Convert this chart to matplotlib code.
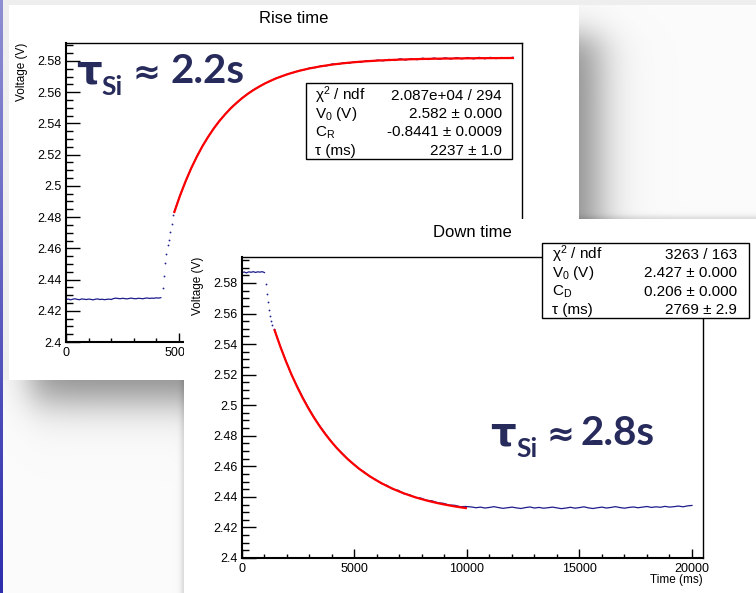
import numpy as np
import matplotlib.pyplot as plt
from matplotlib.ticker import MultipleLocator, FuncFormatter
from matplotlib.patches import Rectangle

plt.rcParams['font.family'] = ['Liberation Sans', 'DejaVu Sans']
plt.rcParams['mathtext.fontset'] = 'custom'
plt.rcParams['mathtext.rm'] = 'Liberation Sans'
plt.rcParams['mathtext.it'] = 'Liberation Sans:italic'

W, H = 756, 593

# ---------------- Rise time data ----------------
rise_base_t0, rise_base_dt = 0, 100
rise_base_v = [2.4272, 2.4275, 2.4270, 2.4274, 2.4277, 2.4273, 2.4271, 2.4276, 2.4274, 2.4272,
               2.4275, 2.4273, 2.4270, 2.4274, 2.4276, 2.4272, 2.4274, 2.4271, 2.4273, 2.4275,
               2.4272, 2.4278, 2.4281, 2.4279, 2.4277, 2.4280, 2.4278, 2.4276, 2.4279, 2.4281,
               2.4278, 2.4277, 2.4280, 2.4279, 2.4277, 2.4280, 2.4282, 2.4279, 2.4281, 2.4280,
               2.4283, 2.4281, 2.4284]
rise_jump_t = [4300, 4345, 4390, 4445, 4520, 4580, 4625, 4680, 4740]
rise_jump_v = [2.4343, 2.4422, 2.4503, 2.4562, 2.4622, 2.4656, 2.4703, 2.4758, 2.4811]
rise_curve_t0, rise_curve_dt = 4800, 250
rise_data_v = [2.4836, 2.4940, 2.5028, 2.5116, 2.5187, 2.5258, 2.5313, 2.5370, 2.5418, 2.5457,
               2.5499, 2.5529, 2.5563, 2.5590, 2.5615, 2.5634, 2.5656, 2.5671, 2.5690, 2.5700,
               2.5716, 2.5724, 2.5738, 2.5743, 2.5756, 2.5757, 2.5769, 2.5769, 2.5781, 2.5778,
               2.5789, 2.5786, 2.5796, 2.5792, 2.5801, 2.5797, 2.5806, 2.5801, 2.5810, 2.5803,
               2.5814, 2.5806, 2.5815, 2.5808, 2.5818, 2.5809, 2.5819, 2.5811, 2.5820, 2.5812,
               2.5821, 2.5813, 2.5822, 2.5813, 2.5823, 2.5814, 2.5823, 2.5815, 2.5822, 2.5816, 2.5824]
rise_fit_v = [2.48326, 2.49370, 2.50304, 2.51139, 2.51885, 2.52553, 2.53150, 2.53684, 2.54161, 2.54588,
              2.54970, 2.55311, 2.55617, 2.55890, 2.56134, 2.56352, 2.56548, 2.56722, 2.56879, 2.57018,
              2.57143, 2.57255, 2.57355, 2.57444, 2.57524, 2.57595, 2.57659, 2.57716, 2.57768, 2.57813,
              2.57854, 2.57891, 2.57923, 2.57953, 2.57979, 2.58002, 2.58023, 2.58042, 2.58058, 2.58073,
              2.58087, 2.58099, 2.58109, 2.58119, 2.58128, 2.58135, 2.58142, 2.58148, 2.58154, 2.58159,
              2.58163, 2.58167, 2.58170, 2.58173, 2.58176, 2.58179, 2.58181, 2.58183, 2.58185, 2.58187, 2.58189]
rise_stat_labels = [r"χ$^\mathregular{2}$ / ndf", r"V$_\mathregular{0}$ (V)", r"C$_\mathregular{R}$", "τ (ms)"]
rise_stat_values = ["2.087e+04 / 294", "2.582 ± 0.000", "-0.8441 ± 0.0009", "2237 ± 1.0"]

# ---------------- Down time data ----------------
down_base_t0, down_base_dt = 0, 100
down_base_v = [2.5868, 2.5872, 2.5866, 2.5873, 2.5870, 2.5874, 2.5869, 2.5873, 2.5871, 2.5874, 2.5868]
down_jump_t = [1053, 1111, 1169, 1213, 1258, 1302, 1347, 1409]
down_jump_v = [2.5793, 2.5728, 2.5673, 2.5625, 2.5584, 2.5551, 2.5524, 2.5501]
down_curve_t0, down_curve_dt = 1450, 250
down_data_v = [2.5490, 2.5387, 2.5291, 2.5198, 2.5125, 2.5052, 2.4985, 2.4922, 2.4866, 2.4815,
               2.4767, 2.4720, 2.4686, 2.4646, 2.4618, 2.4583, 2.4562, 2.4531, 2.4513, 2.4487,
               2.4475, 2.4450, 2.4443, 2.4420, 2.4414, 2.4396, 2.4392, 2.4378, 2.4374, 2.4362,
               2.4358, 2.4347, 2.4345, 2.4336, 2.4337]
down_fit_v = [2.54902, 2.53849, 2.52886, 2.52007, 2.51204, 2.50470, 2.49799, 2.49186, 2.48626, 2.48115,
              2.47647, 2.47220, 2.46830, 2.46473, 2.46148, 2.45850, 2.45578, 2.45330, 2.45103, 2.44895,
              2.44706, 2.44533, 2.44374, 2.44230, 2.44098, 2.43977, 2.43867, 2.43766, 2.43674, 2.43590,
              2.43513, 2.43443, 2.43379, 2.43320, 2.43267]
down_tail_t0, down_tail_dt = 10200, 200
down_tail_v = [2.4334, 2.4329, 2.4333, 2.4327, 2.4331, 2.4336, 2.4330, 2.4325, 2.4329, 2.4333,
               2.4328, 2.4324, 2.4330, 2.4334, 2.4327, 2.4331, 2.4326, 2.4329, 2.4333, 2.4328,
               2.4323, 2.4327, 2.4332, 2.4326, 2.4330, 2.4335, 2.4328, 2.4324, 2.4329, 2.4333,
               2.4327, 2.4331, 2.4336, 2.4330, 2.4326, 2.4331, 2.4334, 2.4329, 2.4333, 2.4337,
               2.4331, 2.4335, 2.4332, 2.4338, 2.4333, 2.4336, 2.4340, 2.4335, 2.4341, 2.4344]
down_stat_labels = [r"χ$^\mathregular{2}$ / ndf", r"V$_\mathregular{0}$ (V)", r"C$_\mathregular{D}$", "τ (ms)"]
down_stat_values = ["3263 / 163", "2.427 ± 0.000", "0.206 ± 0.000", "2769 ± 2.9"]


def times(t0, dt, vals):
    return t0 + dt * np.arange(len(vals))


def fx(px):
    return px / W


def fy(py):
    return 1 - py / H


def box(x0, y0, x1, y1):
    return [fx(x0), fy(y1), (x1 - x0) / W, (y1 - y0) / H]


fig = plt.figure(figsize=(W / 100, H / 100), dpi=100)

# ---------------- slide background with drop shadows ----------------
yy, xx = np.mgrid[0:H, 0:W].astype(float)


def ramp(v, a, b, wa, wb):
    return 0.5 * (1 + np.tanh((v - a) / wa)) * 0.5 * (1 - np.tanh((v - b) / wb))


shade1 = 0.45 * ramp(xx, 30, 598, 20, 25) * ramp(yy, 35, 400, 20, 25)
shade2 = 0.15 * ramp(xx, 181, 5000, 3, 1) * ramp(yy, 216, 5000, 3, 1)
grey = 0.985 * (1 - shade1) * (1 - shade2)
grey[:5, :] = np.minimum(grey[:5, :], 0.935)
grey[:380, 3:9] = np.minimum(grey[:380, 3:9], 0.94)
img = np.dstack([grey, grey, grey])
k = np.linspace(0, 1, H)[:, None]
img[:, :3, 0] = 0.56 - 0.38 * k
img[:, :3, 1] = 0.56 - 0.38 * k
img[:, :3, 2] = 0.83 - 0.15 * k

bg = fig.add_axes([0, 0, 1, 1], zorder=0)
bg.imshow(img, extent=(0, W, H, 0), aspect='auto', interpolation='bilinear')
bg.set_xlim(0, W)
bg.set_ylim(H, 0)
bg.axis('off')


def panel(x0, y0, x1, y1, z):
    ax = fig.add_axes(box(x0, y0, x1, y1), zorder=z)
    ax.set_facecolor('white')
    ax.set_xticks([])
    ax.set_yticks([])
    for s in ax.spines.values():
        s.set_visible(False)
    return ax


def root_axes(x0, y0, x1, y1, z, xmax, ymax):
    ax = fig.add_axes(box(x0, y0, x1, y1), zorder=z)
    ax.set_facecolor('none')
    ax.set_xlim(0, xmax)
    ax.set_ylim(2.4, ymax)
    ax.xaxis.set_major_locator(MultipleLocator(5000))
    ax.xaxis.set_minor_locator(MultipleLocator(1000))
    ax.yaxis.set_major_locator(MultipleLocator(0.02))
    ax.yaxis.set_minor_locator(MultipleLocator(0.005))
    ax.yaxis.set_major_formatter(FuncFormatter(lambda v, p: f"{v:.2f}".rstrip('0').rstrip('.')))
    ax.xaxis.set_major_formatter(FuncFormatter(lambda v, p: f"{v:.0f}"))
    ax.tick_params(which='both', direction='in', top=False, right=False,
                   labelsize=9, width=1, color='black')
    ax.tick_params(axis='y', which='major', length=10, pad=3)
    ax.tick_params(axis='y', which='minor', length=5)
    ax.tick_params(axis='x', which='major', length=6.5, pad=3.5)
    ax.tick_params(axis='x', which='minor', length=3.2)
    ax.spines['left'].set_linewidth(1.5)
    ax.spines['bottom'].set_linewidth(1.5)
    ax.spines['top'].set_linewidth(1.0)
    ax.spines['right'].set_linewidth(1.0)
    return ax


def stats_box(ax, x0, y0, x1, y1, lab_x, val_x, baselines, labels, values):
    ax.add_patch(Rectangle((fx(x0), fy(y1)), (x1 - x0) / W, (y1 - y0) / H,
                           transform=fig.transFigure, facecolor='white', edgecolor='black',
                           linewidth=1.0, clip_on=False, zorder=5))
    for yb, lab, val in zip(baselines, labels, values):
        ax.text(fx(lab_x), fy(yb), lab, transform=fig.transFigure, fontsize=11,
                ha='left', va='baseline', zorder=6)
        ax.text(fx(val_x), fy(yb), val, transform=fig.transFigure, fontsize=11,
                ha='right', va='baseline', zorder=6)


num_font = ['Lato', 'Open Sans', 'DejaVu Sans']
sym_font = ['DejaVu Sans']
navy = '#272b5c'


def tau_label(ax, x, yb, sub_x, eq_x, num_x, num):
    kw = dict(transform=fig.transFigure, color=navy, fontweight='bold',
              va='baseline', ha='left', zorder=10)
    ax.text(fx(x), fy(yb), "τ", fontsize=29, family=sym_font, **kw)
    ax.text(fx(sub_x), fy(yb + 12), "Si", fontsize=19, family=num_font, **kw)
    ax.text(fx(eq_x), fy(yb), "≈", fontsize=24, family=sym_font, **kw)
    ax.text(fx(num_x), fy(yb), num, fontsize=29, family=num_font, **kw)


# ---------------- panel 1 : Rise time ----------------
p1 = panel(9, 5, 579, 380, 1)
p1.text(fx(294), fy(23), "Rise time", transform=fig.transFigure, fontsize=12,
        ha='center', va='baseline')
p1.text(fx(22), fy(43), "Voltage (V)", transform=fig.transFigure, fontsize=8.5,
        rotation=90, ha='center', va='top')

ax1 = root_axes(66, 43, 522, 342, 2, 20200, 2.5915)
blue = '#1c1c8c'
ax1.plot(times(rise_base_t0, rise_base_dt, rise_base_v), rise_base_v, color=blue, lw=0.9, zorder=2)
ax1.plot(rise_jump_t, rise_jump_v, 'o', color=blue, ms=1.3, mew=0, zorder=2)
ax1.plot(times(rise_curve_t0, rise_curve_dt, rise_data_v), rise_data_v, color=blue, lw=0.9, zorder=2)
ax1.plot(times(rise_curve_t0, rise_curve_dt, rise_fit_v), rise_fit_v, color='#ff0000', lw=1.6, zorder=3)
stats_box(ax1, 306, 83, 512, 159, 315, 502, [100, 118, 136.5, 155],
          rise_stat_labels, rise_stat_values)
tau_label(ax1, 76, 83, 101, 133, 171, "2.2s")

# ---------------- panel 2 : Down time ----------------
p2 = panel(184, 219, 756, 593, 3)
p2.text(fx(472), fy(237), "Down time", transform=fig.transFigure, fontsize=12,
        ha='center', va='baseline')
p2.text(fx(198), fy(257), "Voltage (V)", transform=fig.transFigure, fontsize=8.5,
        rotation=90, ha='center', va='top')
p2.text(fx(703), fy(583), "Time (ms)", transform=fig.transFigure, fontsize=8.5,
        ha='right', va='baseline')

ax2 = root_axes(242, 257, 703, 558, 4, 20490, 2.597)
down_line_t = np.concatenate([times(down_curve_t0, down_curve_dt, down_data_v),
                              times(down_tail_t0, down_tail_dt, down_tail_v)])
down_line_v = down_data_v + down_tail_v
ax2.plot(times(down_base_t0, down_base_dt, down_base_v), down_base_v, color=blue, lw=0.9, zorder=2)
ax2.plot(down_jump_t, down_jump_v, 'o', color=blue, ms=1.3, mew=0, zorder=2)
ax2.plot(down_line_t, down_line_v, color=blue, lw=0.9, zorder=2)
ax2.plot(times(down_curve_t0, down_curve_dt, down_fit_v), down_fit_v, color='#ff0000', lw=1.6, zorder=3)
stats_box(ax2, 542, 243, 749, 318, 552, 737, [259, 277, 295.5, 314],
          down_stat_labels, down_stat_values)
tau_label(ax2, 490, 445, 516, 547, 581, "2.8s")

fig.savefig("out.png", dpi=100)
